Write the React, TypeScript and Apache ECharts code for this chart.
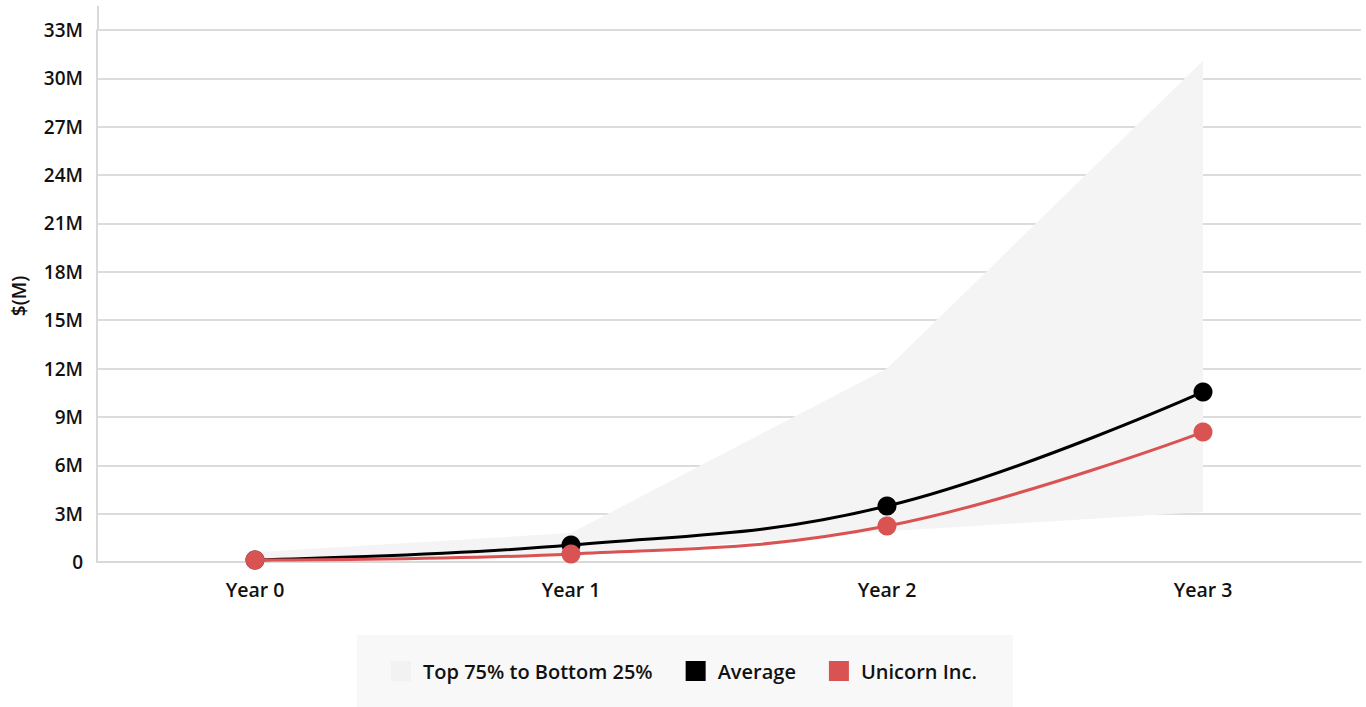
import React, { useEffect, useRef } from "react";
import * as echarts from "echarts";

const categories = ["Year 0", "Year 1", "Year 2", "Year 3"];
const bandLower = [0.05, 0.35, 1.9, 3.1];
const bandUpper = [0.6, 1.8, 12.0, 31.1];
const average = [0.12, 1.05, 3.47, 10.55];
const unicorn = [0.12, 0.5, 2.23, 8.06];
const yTicks = { min: 0, max: 33, interval: 3 };

const FONT = "Open Sans";
const TEXT = "#111111";

export default function App() {
  const ref = useRef<HTMLDivElement>(null);
  useEffect(() => {
    if (!ref.current) return;
    const chart = echarts.init(ref.current, null, { renderer: "svg" });
    const bandDiff = bandUpper.map((u, i) => +(u - bandLower[i]).toFixed(3));
    chart.setOption({
      animation: false,
      textStyle: { fontFamily: FONT },
      grid: { left: 97, right: 5, top: 30, bottom: 145 },
      legend: {
        data: [
          { name: "Top 75% to Bottom 25%", itemStyle: { color: "#f2f2f2" } },
          { name: "Average", itemStyle: { color: "#000000" } },
          { name: "Unicorn Inc.", itemStyle: { color: "#d95353" } },
        ],
        left: 357,
        top: 635,
        padding: [26, 36, 26, 34],
        backgroundColor: "#f8f8f8",
        icon: "rect",
        itemWidth: 20,
        itemHeight: 20,
        itemGap: 33,
        selectedMode: false,
        textStyle: {
          fontFamily: FONT,
          fontWeight: 600,
          fontSize: 20,
          color: TEXT,
          padding: [0, 0, 0, 7],
        },
      },
      xAxis: {
        type: "category",
        data: categories,
        boundaryGap: true,
        axisLine: { lineStyle: { color: "#d9d9d9", width: 2 } },
        axisTick: { show: false },
        axisLabel: {
          fontFamily: FONT,
          fontWeight: 600,
          fontSize: 19.5,
          color: TEXT,
          margin: 17,
        },
      },
      yAxis: {
        type: "value",
        min: yTicks.min,
        max: yTicks.max,
        interval: yTicks.interval,
        name: "$(M)",
        nameLocation: "middle",
        nameGap: 69,
        nameRotate: 90,
        nameTextStyle: {
          fontFamily: FONT,
          fontWeight: 600,
          fontSize: 19,
          color: TEXT,
        },
        axisLine: { show: true, lineStyle: { color: "#d9d9d9", width: 2 } },
        axisTick: { show: false },
        axisLabel: {
          fontFamily: FONT,
          fontWeight: 600,
          fontSize: 19,
          color: TEXT,
          margin: 14,
          formatter: (v: number) => (v === 0 ? "0" : v + "M"),
        },
        splitLine: { lineStyle: { color: "#dcdcdc", width: 2 } },
      },
      graphic: [
        {
          type: "line",
          shape: { x1: 98, y1: 6, x2: 98, y2: 30 },
          style: { stroke: "#d9d9d9", lineWidth: 2 },
          silent: true,
        },
      ],
      series: [
        {
          name: "bandLower",
          type: "line",
          stack: "band",
          data: bandLower,
          symbol: "none",
          lineStyle: { opacity: 0 },
          silent: true,
          z: 1,
        },
        {
          name: "Top 75% to Bottom 25%",
          type: "line",
          stack: "band",
          data: bandDiff,
          symbol: "none",
          lineStyle: { opacity: 0 },
          itemStyle: { color: "#f2f2f2" },
          areaStyle: { color: "#f4f4f4", opacity: 1 },
          silent: true,
          z: 1,
        },
        {
          name: "Average",
          type: "line",
          data: average,
          smooth: 0.4,
          symbol: "circle",
          symbolSize: 19,
          itemStyle: { color: "#000000" },
          lineStyle: { color: "#000000", width: 3 },
          z: 3,
        },
        {
          name: "Unicorn Inc.",
          type: "line",
          data: unicorn,
          smooth: 0.4,
          symbol: "circle",
          symbolSize: 19,
          itemStyle: { color: "#d95353" },
          lineStyle: { color: "#d95353", width: 3 },
          z: 4,
        },
      ],
    });
    return () => chart.dispose();
  }, []);
  return <div ref={ref} style={{ width: 1366, height: 707, position: "absolute", left: 0, top: 0 }} />;
}
